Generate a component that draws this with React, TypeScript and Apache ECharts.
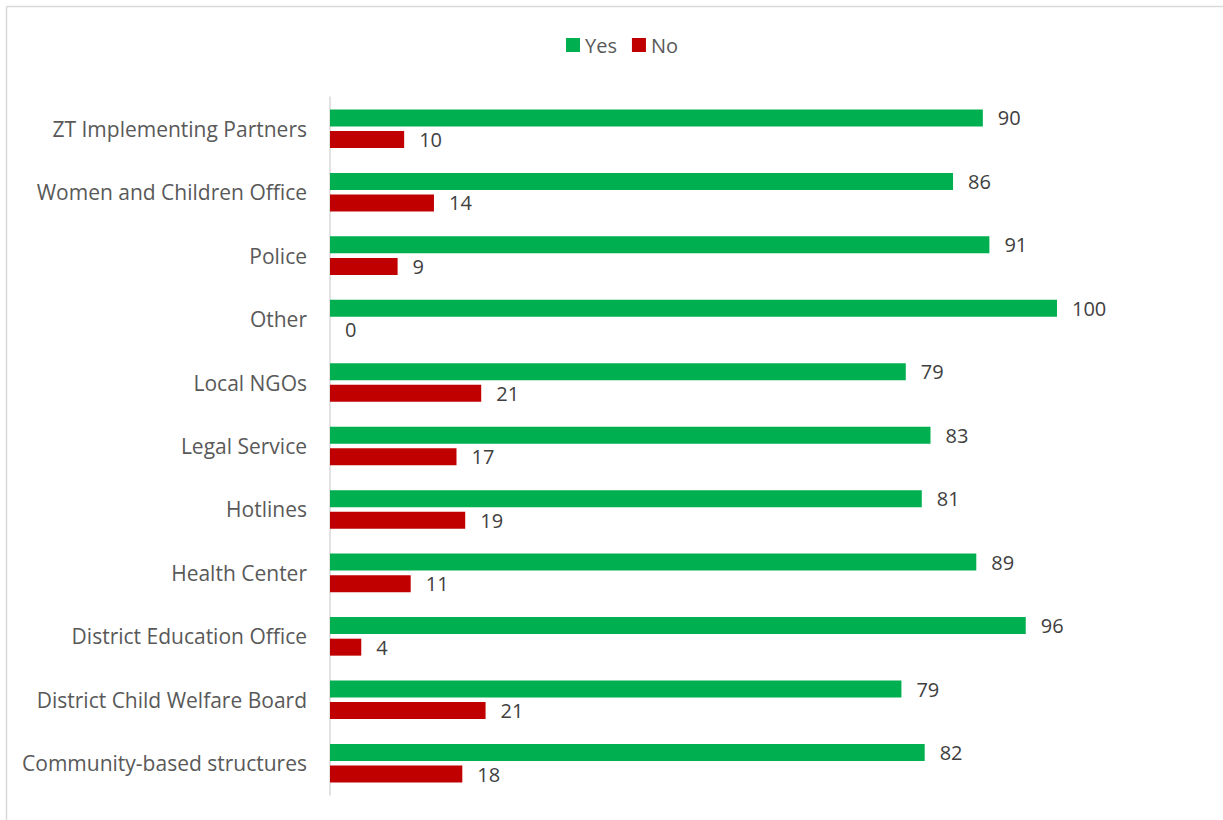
import React, { useEffect, useRef } from "react";
import * as echarts from "echarts";

const categories = [
  "Community-based structures",
  "District Child Welfare Board",
  "District Education Office",
  "Health Center",
  "Hotlines",
  "Legal Service",
  "Local NGOs",
  "Other",
  "Police",
  "Women and Children Office",
  "ZT Implementing Partners",
];
const yesValues = [81.8, 78.6, 95.7, 88.9, 81.4, 82.6, 79.2, 100, 90.7, 85.7, 89.8];
const noValues = [18.2, 21.4, 4.3, 11.1, 18.6, 17.4, 20.8, 0, 9.3, 14.3, 10.2];
const seriesNames = ["Yes", "No"];

const FONT = "Open Sans";
const TEXT = "#595959";

export default function App() {
  const ref = useRef<HTMLDivElement>(null);
  useEffect(() => {
    if (!ref.current) return;
    const chart = echarts.init(ref.current, null, { renderer: "svg" });
    const label = {
      show: true,
      position: "right",
      distance: 15,
      color: "#404040",
      fontFamily: FONT,
      fontSize: 20,
      formatter: (p: any) => String(Math.round(p.value)),
    };
    chart.setOption({
      animation: false,
      backgroundColor: "#ffffff",
      textStyle: { fontFamily: FONT },
      graphic: [
        { type: "line", shape: { x1: 6.5, y1: 6.5, x2: 1223, y2: 6.5 }, style: { stroke: "#d9d9d9", lineWidth: 1.5 } },
        { type: "line", shape: { x1: 6.5, y1: 6.5, x2: 6.5, y2: 820 }, style: { stroke: "#d9d9d9", lineWidth: 1.5 } },
      ],
      legend: {
        data: seriesNames,
        top: 30,
        left: 561,
        itemWidth: 14,
        itemHeight: 14,
        itemGap: 15,
        icon: "rect",
        textStyle: { color: TEXT, fontFamily: FONT, fontSize: 20 },
      },
      grid: { left: 330, right: 166, top: 97, bottom: 25, containLabel: false },
      xAxis: {
        type: "value",
        min: 0,
        max: 100,
        show: false,
      },
      yAxis: {
        type: "category",
        data: categories,
        axisTick: { show: false },
        axisLine: { show: true, lineStyle: { color: "#d9d9d9", width: 1.5 } },
        axisLabel: { color: TEXT, fontFamily: FONT, fontSize: 21, margin: 23 },
      },
      series: [
        {
          name: "Yes",
          type: "bar",
          data: yesValues,
          barWidth: 17,
          barGap: "27%",
          itemStyle: { color: "#00B050" },
          label,
        },
        {
          name: "No",
          type: "bar",
          data: noValues,
          barWidth: 17,
          barGap: "27%",
          itemStyle: { color: "#C00000" },
          label,
        },
      ],
    });
    return () => chart.dispose();
  }, []);
  return (
    <div
      ref={ref}
      style={{ position: "fixed", left: 0, top: 0, width: 1223, height: 820, background: "#fff" }}
    />
  );
}
